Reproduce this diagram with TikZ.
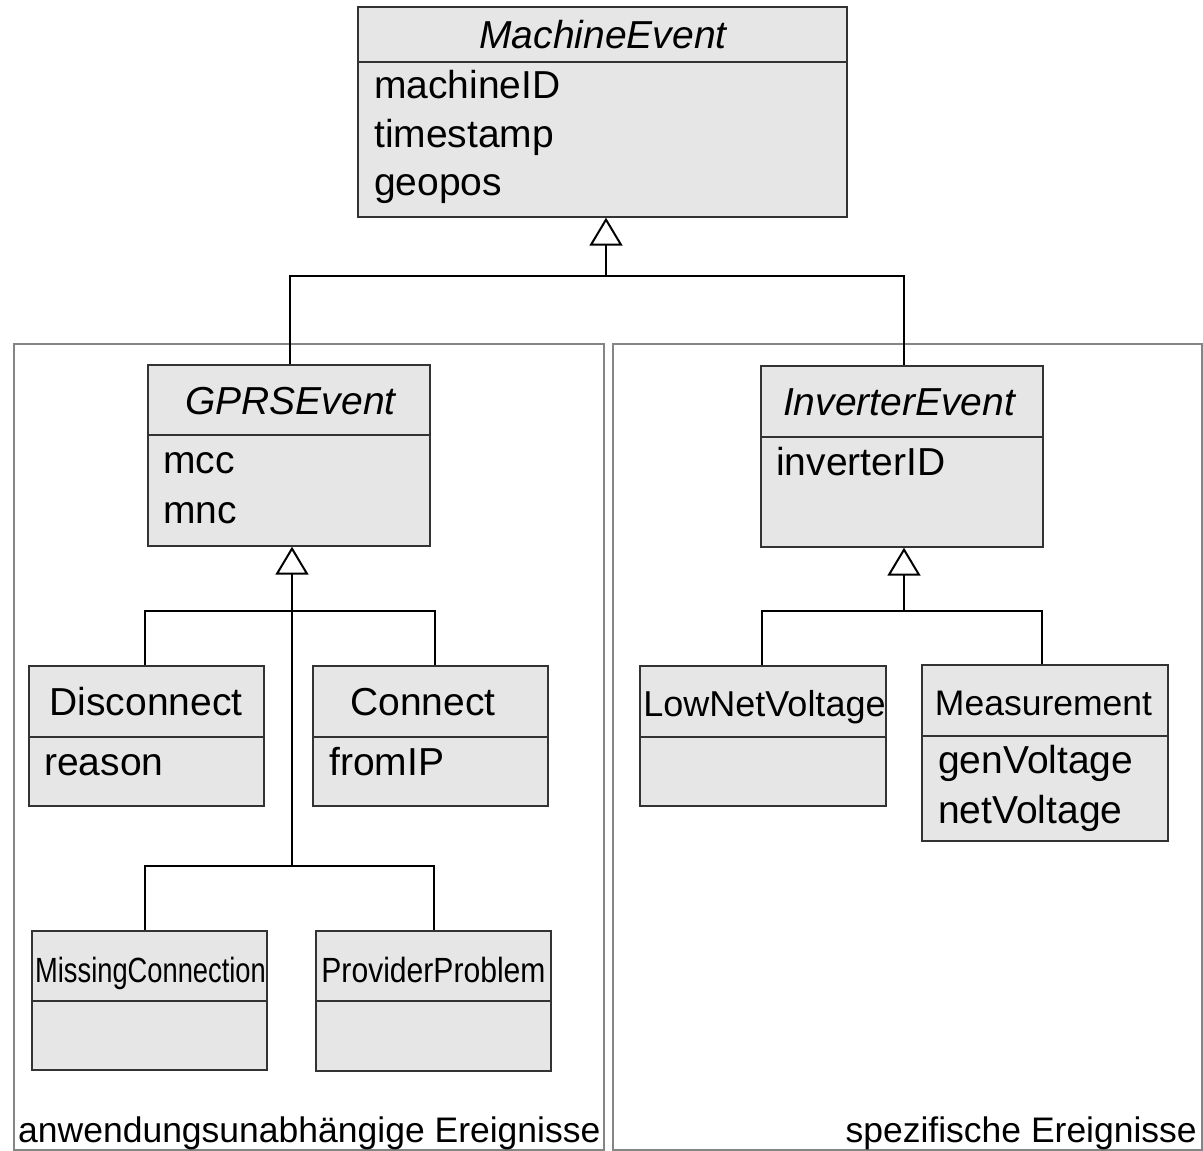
\documentclass[tikz,border=0pt]{standalone}
\usepackage{fontspec}
\setmainfont{Liberation Sans}
\usetikzlibrary{arrows.meta}
\definecolor{boxfill}{HTML}{E6E6E6}
\definecolor{boxline}{HTML}{333333}
\definecolor{pkgline}{HTML}{858585}
\newcommand{\fsz}[1]{\fontsize{#1}{#1}\selectfont}
\begin{document}
\begin{tikzpicture}[x=1pt,y=-1pt,
  pkg/.style={draw=pkgline, line width=1.6pt, inner sep=0pt},
  cls/.style={draw=boxline, fill=boxfill, line width=1.4pt, inner sep=0pt},
  sepline/.style={draw=boxline, line width=1.2pt},
  txt/.style={inner sep=0pt, font=\fsz{39}},
  ttl/.style={inner sep=0pt, font=\fsz{39}\itshape, anchor=base},
  lbl/.style={inner sep=0pt, font=\fsz{35.5}},
  conn/.style={line width=2pt, black},
  inh/.style={conn, -{Triangle[length=28pt, width=33pt, fill=white, line width=2pt]}}
]
\useasboundingbox (0,0) rectangle (1203,1151);

% packages
\node[pkg, minimum width=590pt, minimum height=806pt] (pleft) at (309,747) {};
\node[pkg, minimum width=589pt, minimum height=806pt] (pright) at (907.5,747) {};
\node[lbl, anchor=base west] (lleft) at (18,1142) {anwendungsunabhängige Ereignisse};
\node[lbl, anchor=base east] (lright) at (1197,1142) {spezifische Ereignisse};

% classes
\node[cls, minimum width=489pt, minimum height=210pt] (me) at (602.5,112) {};
\draw[sepline] (me.west |- 0,62) -- (me.east |- 0,62);
\node[ttl] (me-t) at (603,48) {MachineEvent};
\node[txt, anchor=base west] (me-a1) at (374,98) {machineID};
\node[txt, anchor=base west] (me-a2) at (374,147) {timestamp};
\node[txt, anchor=base west] (me-a3) at (374,195) {geopos};

\node[cls, minimum width=282pt, minimum height=181pt] (gprs) at (289,455.5) {};
\draw[sepline] (gprs.west |- 0,435) -- (gprs.east |- 0,435);
\node[ttl] (gprs-t) at (290.5,414) {GPRSEvent};
\node[txt, anchor=base west] (gprs-a1) at (163,473) {mcc};
\node[txt, anchor=base west] (gprs-a2) at (163,523) {mnc};

\node[cls, minimum width=282pt, minimum height=181pt] (inv) at (902,456.5) {};
\draw[sepline] (inv.west |- 0,437) -- (inv.east |- 0,437);
\node[ttl] (inv-t) at (899,415) {InverterEvent};
\node[txt, anchor=base west] (inv-a1) at (776,475) {inverterID};

\node[cls, minimum width=235pt, minimum height=140pt] (disc) at (146.5,736) {};
\draw[sepline] (disc.west |- 0,737) -- (disc.east |- 0,737);
\node[txt, anchor=base] (disc-t) at (146,715) {Disconnect};
\node[txt, anchor=base west] (disc-a1) at (44,775) {reason};

\node[cls, minimum width=235pt, minimum height=140pt] (con) at (430.5,736) {};
\draw[sepline] (con.west |- 0,737) -- (con.east |- 0,737);
\node[txt, anchor=base] (con-t) at (423,715) {Connect};
\node[txt, anchor=base west] (con-a1) at (329,775) {fromIP};

\node[cls, minimum width=235pt, minimum height=139pt] (miss) at (149.5,1000.5) {};
\draw[sepline] (miss.west |- 0,1001) -- (miss.east |- 0,1001);
\node[txt, anchor=base] (miss-t) at (150.5,982) {\scalebox{0.78}[1]{\fsz{35}MissingConnection}};

\node[cls, minimum width=235pt, minimum height=140pt] (prov) at (433.5,1001) {};
\draw[sepline] (prov.west |- 0,1001) -- (prov.east |- 0,1001);
\node[txt, anchor=base] (prov-t) at (433.5,982) {\scalebox{0.86}[1]{\fsz{35}ProviderProblem}};

\node[cls, minimum width=246pt, minimum height=140pt] (low) at (763,736) {};
\draw[sepline] (low.west |- 0,737) -- (low.east |- 0,737);
\node[txt, anchor=base] (low-t) at (764.5,716) {\fsz{36}LowNetVoltage};

\node[cls, minimum width=246pt, minimum height=176pt] (meas) at (1045,753) {};
\draw[sepline] (meas.west |- 0,736) -- (meas.east |- 0,736);
\node[txt, anchor=base] (meas-t) at (1043.5,715) {\fsz{35.5}Measurement};
\node[txt, anchor=base west] (meas-a1) at (938,773) {genVoltage};
\node[txt, anchor=base west] (meas-a2) at (938,823) {netVoltage};

% generalisation buses
\coordinate (b0) at (606,276);
\coordinate (b1) at (292,611);
\coordinate (b2) at (292,866);
\coordinate (b3) at (904,611);

% MachineEvent <- GPRSEvent, InverterEvent
\draw[inh] (b0) -- (b0 |- me.south);
\draw[conn] (b0) -| ([xshift=1pt]gprs.north);
\draw[conn] (b0) -| ([xshift=2pt]inv.north);

% GPRSEvent <- Disconnect, Connect, MissingConnection, ProviderProblem
\draw[inh] (b2) -- (b2 |- gprs.south);
\draw[conn] (b1) -| ([xshift=-2pt]disc.north);
\draw[conn] (b1) -| ([xshift=4pt]con.north);
\draw[conn] (b2) -| ([xshift=-5pt]miss.north);
\draw[conn] (b2) -| (prov.north);

% InverterEvent <- LowNetVoltage, Measurement
\draw[inh] (b3) -- (b3 |- inv.south);
\draw[conn] (b3) -| ([xshift=-1pt]low.north);
\draw[conn] (b3) -| ([xshift=-3pt]meas.north);
\end{tikzpicture}
\end{document}
